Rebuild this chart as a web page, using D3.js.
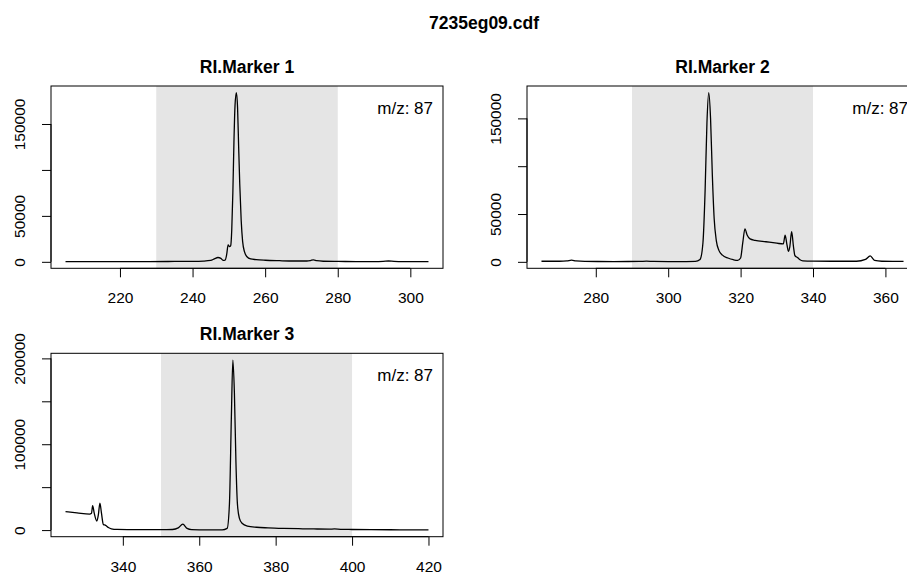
<!DOCTYPE html>
<html>
<head>
<meta charset="utf-8">
<script src="https://cdn.jsdelivr.net/npm/d3@7"></script>
<style>
  html, body { margin: 0; padding: 0; background: #fff; }
  svg { display: block; }
  text { font-family: "Liberation Sans", Arial, Helvetica, sans-serif; fill: #000; }
</style>
</head>
<body>
<svg id="chart" width="907" height="575"></svg>
<script>
// ---------------- data ----------------
const mainTitle = "7235eg09.cdf";
const panelTitles = ["RI.Marker 1", "RI.Marker 2", "RI.Marker 3"];
const mzLabel = "m/z: 87";

// retention index windows (shaded)
const window1 = [230, 280];
const window2 = [290, 340];
const window3 = [350, 400];

// Marker 1 trace
const rt1 = [205, 212, 220, 228, 235, 240, 243, 245, 246, 247, 247.8, 248.5, 249.0, 249.4, 249.8, 250.2, 250.5, 250.8, 251.1, 251.4, 251.7, 252.07, 252.4, 252.7, 253.0, 253.4, 253.8, 254.3, 255.0, 256.0, 257.5, 260, 264, 268, 271.5, 272.5, 273.3, 274.2, 276, 280, 285, 290, 292.5, 294, 295.5, 298, 302, 305];
const int1 = [300, 300, 300, 300, 400, 500, 800, 1500, 3200, 4700, 3800, 1500, 2000, 8000, 18500, 16500, 17500, 35000, 75000, 130000, 170000, 184000, 168000, 125000, 85000, 45000, 22000, 11000, 5500, 3200, 2400, 1700, 1200, 900, 900, 1400, 2100, 1200, 600, 400, 300, 300, 500, 900, 500, 300, 300, 300];

// Marker 2 trace
const rt2 = [265, 270, 272, 273.3, 274.5, 277, 285, 292, 294, 296, 300, 305, 307.5, 308.8, 309.6, 310.2, 310.7, 311.2, 311.7, 312.2, 312.7, 313.3, 314.0, 315.0, 316.5, 318.0, 319.2, 320.0, 320.6, 321.2, 321.8, 322.6, 324, 327, 330, 331.8, 332.3, 332.8, 333.2, 333.6, 334.1, 334.6, 335.0, 335.7, 336.3, 337.2, 340, 345, 352, 354.5, 355.8, 357, 359, 362, 365];
const int2 = [600, 600, 900, 1800, 900, 400, 300, 400, 700, 400, 300, 300, 400, 2500, 20000, 75000, 145000, 176800, 150000, 90000, 45000, 22000, 12000, 7000, 4000, 2200, 1500, 4000, 20000, 34500, 28000, 24000, 22500, 21000, 19500, 18700, 28000, 18000, 11000, 16000, 31500, 16000, 6500, 4500, 2500, 1000, 700, 600, 600, 2500, 6300, 1500, 600, 500, 500];

// Marker 3 trace
const rt3 = [325, 328, 331.3, 331.8, 332.1, 332.5, 333.2, 333.6, 334.0, 334.4, 334.9, 335.5, 336.2, 337, 338.5, 342, 346, 350, 353, 354.5, 355.7, 356.8, 358, 362, 366, 367.3, 367.9, 368.4, 368.8, 369.2, 369.6, 370.0, 370.5, 371.2, 372.6, 375, 378, 382, 386, 390, 394, 395.4, 397, 400, 405, 410, 415, 420];
const int3 = [21500, 20000, 18500, 19500, 28500, 20000, 10500, 18000, 31500, 20000, 6600, 5500, 3000, 1500, 800, 600, 500, 500, 700, 2500, 7000, 2000, 600, 300, 300, 2000, 30000, 130000, 198000, 160000, 80000, 30000, 14000, 8000, 4700, 3300, 2600, 2000, 1600, 1300, 1100, 1300, 900, 700, 500, 400, 300, 200];

// ticks
const xTicks1 = [220, 240, 260, 280, 300];
const xTicks2 = [280, 300, 320, 340, 360];
const xTicks3 = [340, 360, 380, 400, 420];
const yTicks1 = [0, 50000, 100000, 150000];
const yLabels1 = ["0", "50000", "", "150000"];
const yTicks2 = [0, 50000, 100000, 150000];
const yLabels2 = ["0", "50000", "", "150000"];
const yTicks3 = [0, 50000, 100000, 150000, 200000];
const yLabels3 = ["0", "", "100000", "", "200000"];

// ---------------- layout ----------------
const svg = d3.select("#chart");
const AXIS_FS = 15.5, TITLE_FS = 17.5, MZ_FS = 17;

const panels = [
  { title: panelTitles[0], rt: rt1, inten: int1, win: window1, xT: xTicks1, yT: yTicks1, yL: yLabels1, box: { x: 51, y: 86, w: 392, h: 182.3 } },
  { title: panelTitles[1], rt: rt2, inten: int2, win: window2, xT: xTicks2, yT: yTicks2, yL: yLabels2, box: { x: 527, y: 86, w: 391, h: 182.3 } },
  { title: panelTitles[2], rt: rt3, inten: int3, win: window3, xT: xTicks3, yT: yTicks3, yL: yLabels3, box: { x: 51, y: 353.3, w: 392, h: 183.4 } }
];

function padded(ext) {
  const r = ext[1] - ext[0];
  return [ext[0] - 0.04 * r, ext[1] + 0.04 * r];
}

svg.append("text")
  .attr("x", 484).attr("y", 22.7).attr("dy", "0.35em")
  .attr("text-anchor", "middle")
  .style("font-weight", "bold").style("font-size", TITLE_FS + "px")
  .text(mainTitle);

panels.forEach((p, i) => {
  const b = p.box;
  const x = d3.scaleLinear().domain(padded(d3.extent(p.rt))).range([b.x, b.x + b.w]);
  const y = d3.scaleLinear().domain(padded(d3.extent(p.inten))).range([b.y + b.h, b.y]);
  const g = svg.append("g");

  const clipId = "clip" + i;
  svg.append("clipPath").attr("id", clipId)
    .append("rect").attr("x", b.x).attr("y", b.y).attr("width", b.w).attr("height", b.h);

  // shaded window
  g.append("rect")
    .attr("x", x(p.win[0])).attr("y", b.y)
    .attr("width", x(p.win[1]) - x(p.win[0])).attr("height", b.h)
    .attr("fill", "#e5e5e5");

  // trace
  const pts = p.rt.map((d, k) => [d, p.inten[k]]);
  g.append("path")
    .datum(pts)
    .attr("clip-path", `url(#${clipId})`)
    .attr("fill", "none").attr("stroke", "#000").attr("stroke-width", 1.3)
    .attr("stroke-linejoin", "round")
    .attr("d", d3.line().x(d => x(d[0])).y(d => y(d[1])).curve(d3.curveMonotoneX));

  // box
  g.append("rect")
    .attr("x", b.x).attr("y", b.y).attr("width", b.w).attr("height", b.h)
    .attr("fill", "none").attr("stroke", "#000").attr("stroke-width", 1);

  // x axis
  const xa = g.append("g").attr("transform", `translate(0,${b.y + b.h})`)
    .call(d3.axisBottom(x).tickValues(p.xT).tickSize(9).tickSizeOuter(0).tickFormat(d3.format("d")));
  xa.select(".domain").remove();
  xa.selectAll(".tick line").attr("stroke", "#000");
  xa.selectAll(".tick text")
    .attr("y", 29.5).attr("dy", "0.35em")
    .style("font-size", AXIS_FS + "px").style("font-family", "'Liberation Sans', Arial, sans-serif");
  xa.append("line")
    .attr("x1", x(p.xT[0])).attr("x2", x(p.xT[p.xT.length - 1]))
    .attr("y1", 0).attr("y2", 0).attr("stroke", "#000");

  // y axis
  const ya = g.append("g").attr("transform", `translate(${b.x},0)`)
    .call(d3.axisLeft(y).tickValues(p.yT).tickSize(9).tickSizeOuter(0).tickFormat((d, k) => p.yL[k]));
  ya.select(".domain").remove();
  ya.selectAll(".tick line").attr("stroke", "#000");
  ya.selectAll(".tick text")
    .attr("x", 0).attr("y", -31.5).attr("dy", "0.35em")
    .attr("transform", "rotate(-90)")
    .attr("text-anchor", "middle")
    .style("font-size", AXIS_FS + "px").style("font-family", "'Liberation Sans', Arial, sans-serif");
  ya.append("line")
    .attr("x1", 0).attr("x2", 0)
    .attr("y1", y(p.yT[0])).attr("y2", y(p.yT[p.yT.length - 1])).attr("stroke", "#000");

  // panel title
  g.append("text")
    .attr("x", b.x + b.w / 2).attr("y", b.y - 19.5).attr("dy", "0.35em")
    .attr("text-anchor", "middle")
    .style("font-weight", "bold").style("font-size", TITLE_FS + "px")
    .text(p.title);

  // m/z label
  g.append("text")
    .attr("x", b.x + b.w - 10).attr("y", b.y + 22).attr("dy", "0.35em")
    .attr("text-anchor", "end")
    .style("font-size", MZ_FS + "px")
    .text(mzLabel);
});
</script>
</body>
</html>
